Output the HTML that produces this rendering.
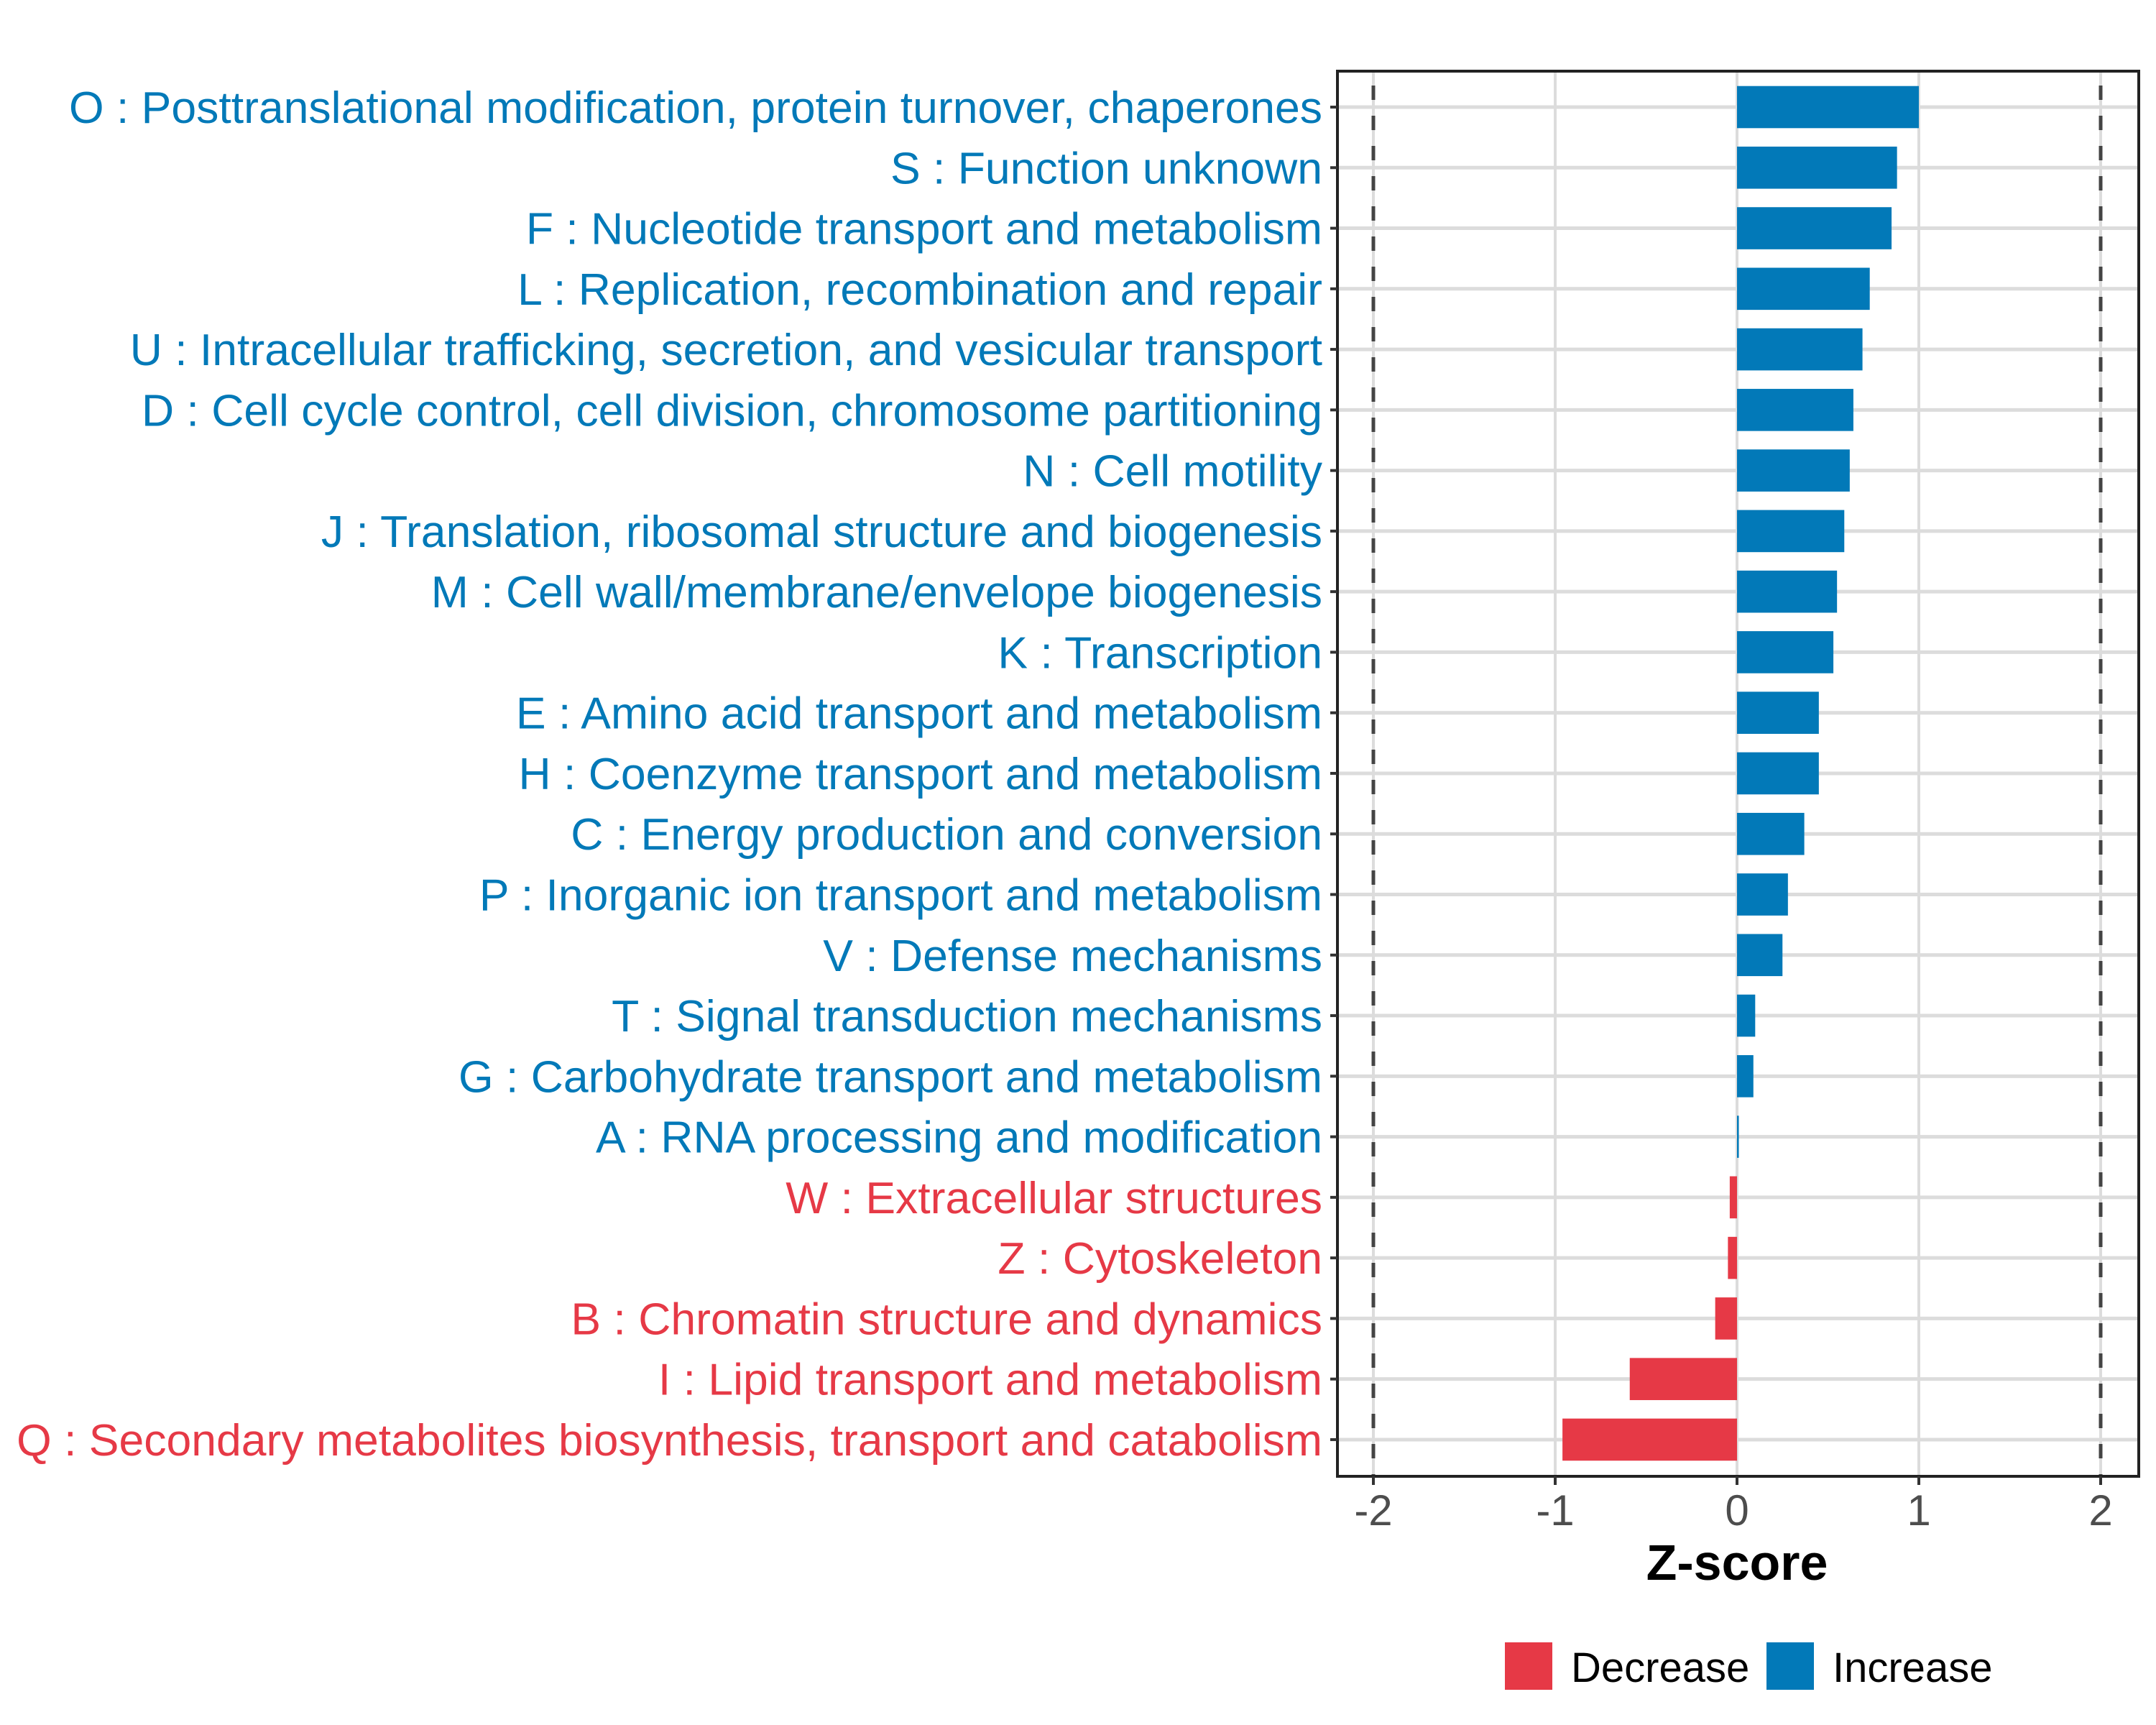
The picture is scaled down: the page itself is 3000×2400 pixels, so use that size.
<!DOCTYPE html>
<html><head><meta charset="utf-8"><style>
html,body{margin:0;padding:0;background:#fff}
svg{display:block;font-family:"Liberation Sans",Arial,sans-serif}
</style></head><body>
<svg id="chart" width="3000" height="2400" viewBox="0 0 3000 2400"></svg>
<script>
const categories = ["O : Posttranslational modification, protein turnover, chaperones","S : Function unknown","F : Nucleotide transport and metabolism","L : Replication, recombination and repair","U : Intracellular trafficking, secretion, and vesicular transport","D : Cell cycle control, cell division, chromosome partitioning","N : Cell motility","J : Translation, ribosomal structure and biogenesis","M : Cell wall/membrane/envelope biogenesis","K : Transcription","E : Amino acid transport and metabolism","H : Coenzyme transport and metabolism","C : Energy production and conversion","P : Inorganic ion transport and metabolism","V : Defense mechanisms","T : Signal transduction mechanisms","G : Carbohydrate transport and metabolism","A : RNA processing and modification","W : Extracellular structures","Z : Cytoskeleton","B : Chromatin structure and dynamics","I : Lipid transport and metabolism","Q : Secondary metabolites biosynthesis, transport and catabolism"];
const zscores = [1.00,0.88,0.85,0.73,0.69,0.64,0.62,0.59,0.55,0.53,0.45,0.45,0.37,0.28,0.25,0.10,0.09,0.01,-0.04,-0.05,-0.12,-0.59,-0.96];
const xTicks = [-2,-1,0,1,2];
const xTickLabels = ["-2","-1","0","1","2"];
const thresholds = [-2,2];
const legendLabels = ["Decrease","Increase"];

const NS="http://www.w3.org/2000/svg";
const svg=document.getElementById('chart');
const L=1861,R=2976,T=99,B=2054;
const x0=2417,unit=253;
const BLUE="#0279b8",RED="#e63946";
function xs(v){return x0+v*unit;}
function ys(i){return 149+i*84.27;}
function mk(tag,attrs,parent){const e=document.createElementNS(NS,tag);for(const k in attrs)e.setAttribute(k,attrs[k]);(parent||svg).appendChild(e);return e;}

xTicks.forEach((t,i)=>{
  const g=mk('line',{x1:xs(t),x2:xs(t),y1:T,y2:B,stroke:'#dcdcdc','stroke-width':4});
  
  
});
categories.forEach((c,i)=>{
  const g=mk('line',{x1:L,x2:R,y1:ys(i),y2:ys(i),stroke:'#dcdcdc','stroke-width':5});
  
  
});
zscores.forEach((v,i)=>{
  const a=xs(Math.min(0,v)),b=xs(Math.max(0,v));
  const r=mk('rect',{x:a,y:ys(i)-29.3,width:Math.max(b-a,1.5),height:58.6,fill:v<0?RED:BLUE});
  
  
});
thresholds.forEach(t=>{
  const l=mk('line',{x1:xs(t),x2:xs(t),y1:T,y2:B,stroke:'#444','stroke-width':5,'stroke-dasharray':'20 22','stroke-dashoffset':'-20'});
  
  
});
const pb=mk('rect',{x:L,y:T,width:R-L,height:B-T,fill:'none',stroke:'#222','stroke-width':4});


categories.forEach((c,i)=>{
  const tk=mk('line',{x1:L-10,x2:L,y1:ys(i),y2:ys(i),stroke:'#333','stroke-width':4});
  
  
  const t=mk('text',{x:1840,y:ys(i)+22,'text-anchor':'end','font-size':62.5,fill:zscores[i]<0?RED:BLUE});
  t.textContent=c;
  
  
});
xTicks.forEach((v,i)=>{
  const tk=mk('line',{x1:xs(v),x2:xs(v),y1:B,y2:B+12,stroke:'#333','stroke-width':4});
  
  
  const t=mk('text',{x:xs(v),y:2122,'text-anchor':'middle','font-size':60,fill:'#4d4d4d'});
  t.textContent=xTickLabels[i];
  
  
});
const xt=mk('text',{x:xs(0),y:2198,'text-anchor':'middle','font-size':70,'font-weight':'bold',fill:'#000'});
xt.textContent='Z-score';


const lg=mk('g',{});


const lx=[2094,2458],tx=[2186,2550],cols=[RED,BLUE];
legendLabels.forEach((lab,i)=>{
  const r=mk('rect',{x:lx[i],y:2285,width:66,height:66,fill:cols[i]},lg);
  
  
  const t=mk('text',{x:tx[i],y:2340,'font-size':58,fill:'#000'},lg);
  t.textContent=lab;
  
  
});
</script>
</body></html>
